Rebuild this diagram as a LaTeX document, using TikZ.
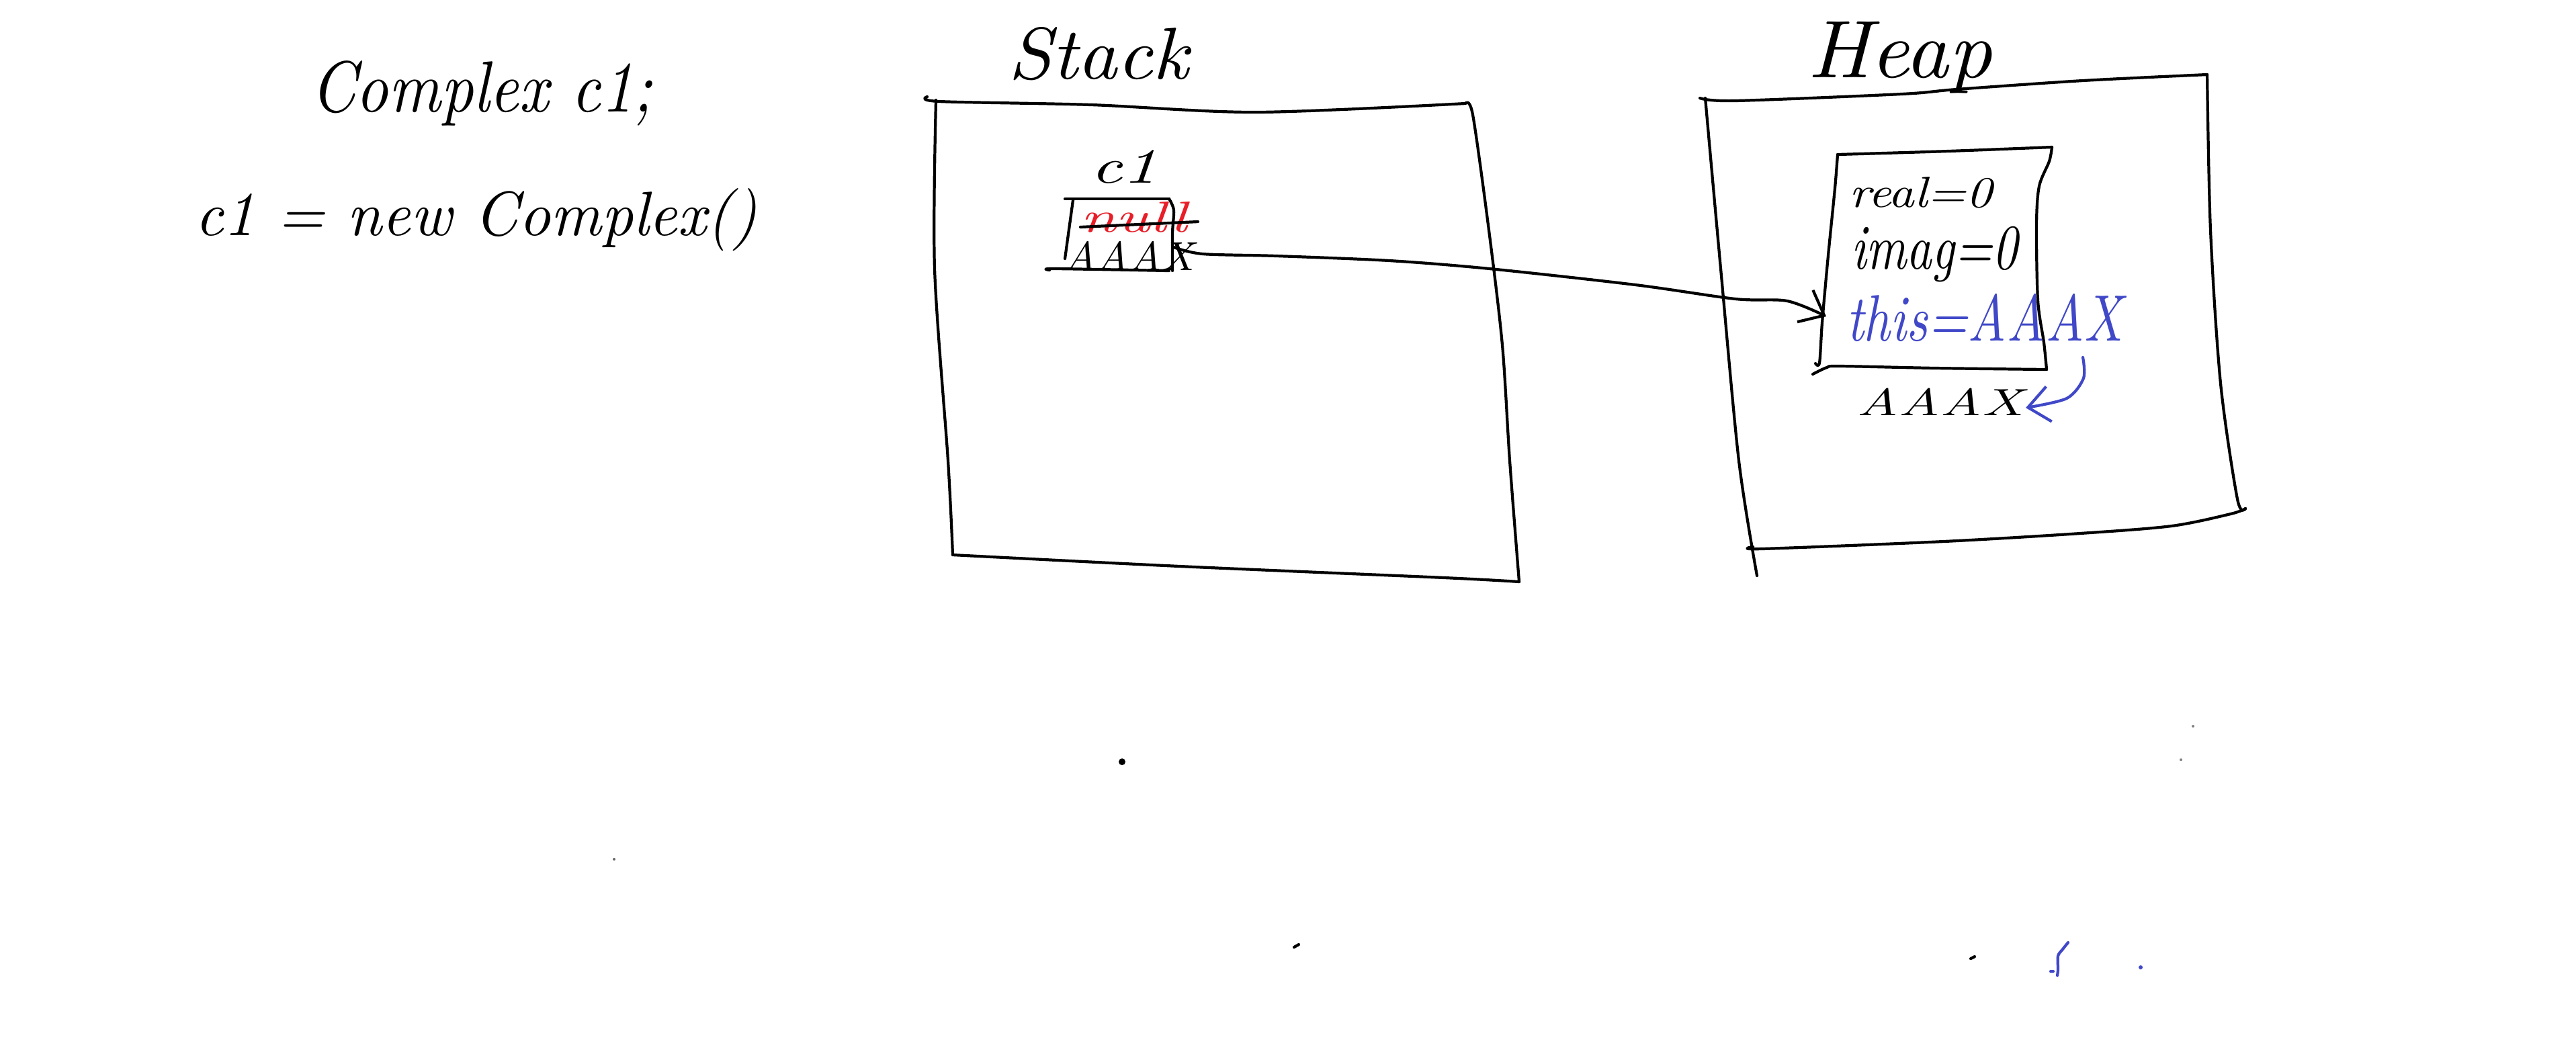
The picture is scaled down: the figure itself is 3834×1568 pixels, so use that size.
\documentclass[tikz,border=0pt]{standalone}
\usepackage{graphicx}
\usetikzlibrary{arrows.meta}
\definecolor{penblue}{RGB}{64,72,200}
\definecolor{penred}{RGB}{232,30,40}
\begin{document}
\begin{tikzpicture}[x=0.01cm,y=-0.01cm,
  hw/.style={inner sep=0pt,outer sep=0pt,anchor=base west},
  pen/.style={draw=black,line width=1.2pt,line cap=round,line join=round},
  bluepen/.style={draw=penblue,line width=1.2pt,line cap=round,line join=round},
  barb/.style={-{Straight Barb[length=9pt,width=15pt,line width=1.2pt]}}]
\fill[white] (0,0) rectangle (3834,1568);
\useasboundingbox (0,0) rectangle (3834,1568);

% code text on the left
\node[hw] (decl) at (462,166) {\resizebox{145pt}{21.6pt}{\itshape Complex c1;}};
\node[hw] (assign) at (290,350) {\resizebox{238pt}{19.9pt}{\itshape c1 = new Complex()}};

% titles
\node[hw] (stacklbl) at (1500,117) {\resizebox{76.5pt}{21.9pt}{\itshape Stack}};
\node[hw] (heaplbl) at (2690,115) {\resizebox{78pt}{23.6pt}{\itshape Heap}};

% stack frame
\draw[pen] plot[smooth] coordinates {(1380,144) (1398,151) (1624,156) (1870,167) (2181,154)};
\draw[pen] plot[smooth] coordinates {(2181,154) (2192,171) (2216,343) (2236,514) (2247,686) (2261,866)};
\draw[pen] plot[smooth] coordinates {(2261,866) (2150,860) (1756,843) (1418,826)};
\draw[pen] plot[smooth] coordinates {(1418,826) (1411,686) (1391,400) (1393,149)};

% heap frame
\draw[pen] plot[smooth] coordinates {(2530,146) (2582,150) (2830,140) (2912,133) (3100,120) (3285,111)};
\draw[pen] plot[smooth] coordinates {(3285,111) (3290,343) (3305,571) (3330,743) (3342,757)};
\draw[pen] plot[smooth] coordinates {(3342,757) (3320,765) (3232,783) (3096,794) (2893,806) (2622,817) (2609,814)};
\draw[pen] plot[smooth] coordinates {(2538,146) (2561,400) (2588,686) (2615,857)};

% variable c1 in the stack
\node[hw] (c1lbl) at (1623,272) {\resizebox{28.2pt}{13.9pt}{\itshape c1}};
\draw[pen] (1585,296) -- (1740,296);
\draw[pen] plot[smooth] coordinates {(1740,296) (1747,313) (1745,347) (1745,403)};
\draw[pen] plot[smooth] coordinates {(1562,402) (1570,400) (1740,403)};
\draw[pen] (1597,298) -- (1585,385);
\node[hw] (null) at (1608,345) {\resizebox{45.2pt}{12.8pt}{\color{penred}\itshape null}};
\draw[pen] (null.west |- 0,338) -- (1783,330);
\node[hw] (ref) at (1583,402) {\resizebox{55.2pt}{12.3pt}{\itshape AAAX}};

% object in the heap
\draw[pen] plot[smooth] coordinates {(2735,230) (2900,225) (3054,219)};
\draw[pen] plot[smooth] coordinates {(3054,219) (3050,240) (3035,277) (3031,333) (3033,447) (3042,510) (3046,550)};
\draw[pen] plot[smooth] coordinates {(3046,550) (2881,548) (2738,545) (2719,547) (2698,557)};
\draw[pen] plot[smooth] coordinates {(2735,230) (2731,280) (2721,380) (2712,480) (2708,540) (2702,541)};
\node[hw] (real) at (2752,308) {\resizebox{60.6pt}{12.8pt}{\itshape real=0}};
\node[hw] (imag) at (2755,400) {\resizebox{70.6pt}{18pt}{\itshape imag=0}};
\node[hw] (this) at (2748,507) {\resizebox{117pt}{19.9pt}{\color{penblue}\itshape this=AAAX}};
\node[hw] (addr) at (2763,618) {\resizebox{70.6pt}{11.5pt}{\itshape AAAX}};

% pointer from c1 to the object
\coordinate (ptr) at (1747,368);
\coordinate (objin) at (2718,471);
\draw[pen,barb] plot[smooth] coordinates {(ptr) (1790,378) (1900,381) (2068,388) (2217,400) (2434,424) (2583,445) (2660,448) (objin)};

% this refers to the object's address
\coordinate (thisx) at (3100,532);
\coordinate (addrx) at (3015,607);
\draw[bluepen,barb] plot[smooth] coordinates {(thisx) (3101,563) (3076,593) (addrx)};

% stray marks
\fill (1670,1134) circle (5);
\fill[black!60] (914,1279) circle (2);
\draw[pen] (1926,1410) -- (1933,1406);
\draw[pen] (2933,1427) -- (2939,1424);
\draw[bluepen] plot[smooth] coordinates {(3078,1403) (3070,1413) (3063,1423) (3063,1443) (3062,1452)};
\draw[bluepen] (3052,1446) -- (3056,1446);
\fill[penblue] (3186,1440) circle (3);
\fill[black!50] (3246,1131) circle (2);
\fill[black!50] (3264,1081) circle (2);
\end{tikzpicture}
\end{document}
